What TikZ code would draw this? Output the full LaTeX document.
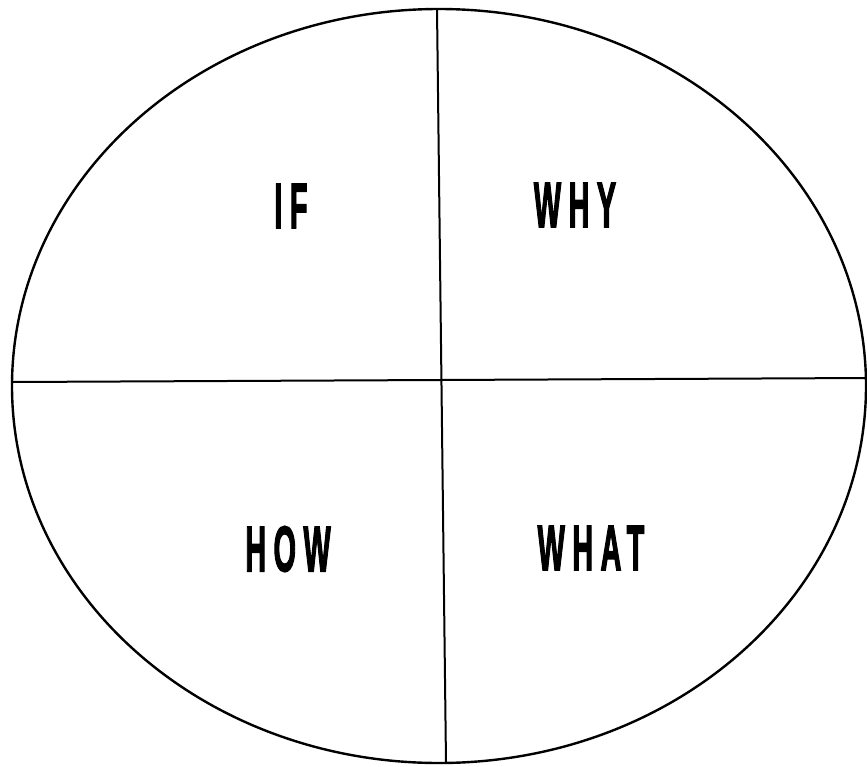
\documentclass[tikz,border=0pt]{standalone}
\usepackage{fontspec}
\usetikzlibrary{shapes.geometric}
\newfontfamily\capfont{Liberation Sans}[LetterSpace=26,FakeBold=3]
\newcommand{\capword}[1]{\scalebox{0.45}[1]{\capfont\bfseries\fontsize{64}{64}\selectfont #1}}
\begin{document}
\begin{tikzpicture}[x=1pt,y=-1pt,
  outline/.style={line width=2.4pt,black},
  divider/.style={line width=2pt,black},
  quad/.style={inner sep=0pt,anchor=center}]
\useasboundingbox (0,0) rectangle (867,766);
\node[draw,outline,ellipse,minimum width=854pt,minimum height=754pt,inner sep=0pt] (oval) at (439,386) {};
\coordinate (top) at (437,9);
\coordinate (bot) at (446,763);
\coordinate (lft) at (12,382);
\coordinate (rgt) at (867,378);
\draw[divider] (top) -- (bot);
\draw[divider] (lft) -- (rgt);
\node[quad] (if) at (291,206) {\capword{IF}};
\node[quad] (why) at (575,205) {\capword{WHY}};
\node[quad] (how) at (288,549) {\capword{HOW}};
\node[quad] (what) at (591,548) {\capword{WHAT}};
\end{tikzpicture}
\end{document}
